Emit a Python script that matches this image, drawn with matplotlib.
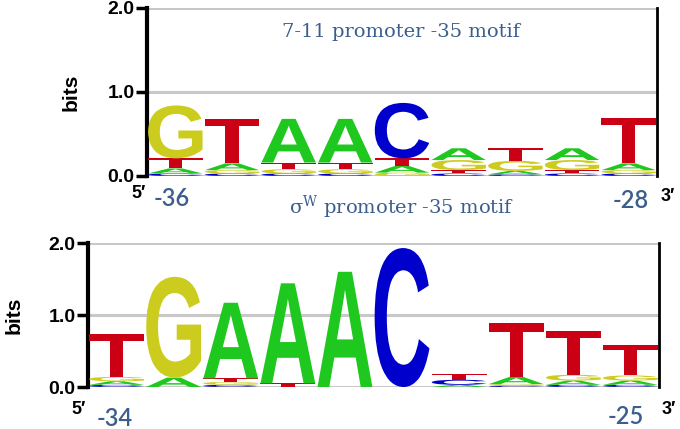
import numpy as np
import matplotlib
matplotlib.use('Agg')
import matplotlib.pyplot as plt
from matplotlib.textpath import TextPath
from matplotlib.patches import PathPatch
from matplotlib.font_manager import FontProperties
from matplotlib.transforms import Affine2D

# letter heights (bits) per position
bases = ['A', 'C', 'G', 'T']
base_colors = {'A': '#1ec81e', 'C': '#0000cc', 'G': '#cccc1e', 'T': '#cc0014'}

# 7-11 promoter -35 motif, positions -36 .. -28
top_A = [0.06, 0.08, 0.52, 0.52, 0.08, 0.14, 0.04, 0.14, 0.08]
top_C = [0.03, 0.03, 0.03, 0.03, 0.66, 0.03, 0.02, 0.03, 0.03]
top_G = [0.63, 0.04, 0.05, 0.05, 0.04, 0.12, 0.12, 0.12, 0.04]
top_T = [0.12, 0.53, 0.08, 0.08, 0.09, 0.04, 0.15, 0.04, 0.54]
top_ends = ['-36', '-28']

# sigma-W promoter -35 motif, positions -34 .. -25
bot_A = [0.05, 0.13, 1.05, 1.39, 1.60, 0.00, 0.03, 0.10, 0.06, 0.06]
bot_C = [0.03, 0.00, 0.03, 0.00, 0.00, 1.93, 0.07, 0.02, 0.03, 0.03]
bot_G = [0.06, 1.40, 0.04, 0.00, 0.00, 0.00, 0.00, 0.02, 0.08, 0.07]
bot_T = [0.60, 0.00, 0.05, 0.05, 0.00, 0.00, 0.08, 0.75, 0.61, 0.43]
bot_ends = ['-34', '-25']

title_top = '7-11 promoter -35 motif'
title_bot = r'σ$^{\mathregular{W}}$ promoter -35 motif'

W, H = 680, 429
label_blue = '#3b5e8e'
letter_font = FontProperties(family='Liberation Sans', weight='bold')


def draw_letter(ax, base, x, y, w, h):
    tp = TextPath((0, 0), base, size=1, prop=letter_font)
    bb = tp.get_extents()
    t = Affine2D().translate(-bb.x0, -bb.y0).scale(w / bb.width, h / bb.height).translate(x, y)
    ax.add_patch(PathPatch(t.transform_path(tp), fc=base_colors[base], ec='none', lw=0,
                           zorder=3, clip_on=False))


def draw_logo(ax, A, C, G, T):
    n = len(A)
    for i in range(n):
        col = sorted(zip(bases, [A[i], C[i], G[i], T[i]]), key=lambda p: p[1])
        y = 0.0
        for b, h in col:
            if h <= 0:
                continue
            draw_letter(ax, b, i + 0.02, y, 0.96, h)
            y += h
    ax.set_xlim(0, n)
    ax.set_ylim(0, 2)
    for v in [0, 1, 2]:
        ax.axhline(v, color='#c8c8c8', lw=2.2, zorder=1)
    ax.spines['top'].set_visible(False)
    ax.spines['bottom'].set_visible(False)
    ax.spines['left'].set_linewidth(3)
    ax.spines['right'].set_linewidth(2)
    ax.set_xticks([])
    ax.set_yticks([0, 1, 2])
    ax.set_yticklabels(['0.0', '1.0', '2.0'], fontsize=14, fontweight='bold',
                       family='Liberation Sans')
    ax.tick_params(axis='y', length=8, width=2.5, pad=1)
    ax.set_ylabel('bits', fontsize=15, fontweight='bold', family='Liberation Sans')


def px(x, y):
    return x / W, 1 - y / H


fig = plt.figure(figsize=(6.8, 4.29), dpi=100)
ax1 = fig.add_axes([147 / W, 1 - 176 / H, 510 / W, 168 / H])
ax2 = fig.add_axes([88 / W, 1 - 387 / H, 571 / W, 144 / H])
draw_logo(ax1, top_A, top_C, top_G, top_T)
draw_logo(ax2, bot_A, bot_C, bot_G, bot_T)
ax1.yaxis.set_label_coords(-0.13, 0.5)
ax2.yaxis.set_label_coords(-0.112, 0.5)

fig.text(*px(401, 32), title_top, ha='center', va='center', fontsize=14,
         family='DejaVu Serif', color=label_blue)
fig.text(*px(402, 207), title_bot, ha='center', va='center', fontsize=14,
         family='DejaVu Serif', color=label_blue)

end_style = dict(ha='center', va='center', fontsize=17, family='Lato',
                 fontweight='semibold', color=label_blue)
fig.text(*px(172, 199), top_ends[0], **end_style)
fig.text(*px(631, 201), top_ends[1], **end_style)
fig.text(*px(115, 419), bot_ends[0], **end_style)
fig.text(*px(626, 416), bot_ends[1], **end_style)

for x, y, s in [(139, 194, '5′'), (668, 196, '3′'), (79, 409, '5′'), (669, 409, '3′')]:
    fig.text(*px(x, y), s, ha='center', va='center', fontsize=13, fontweight='bold',
             family='Liberation Sans', color='black')

fig.savefig('out.png', dpi=100)
